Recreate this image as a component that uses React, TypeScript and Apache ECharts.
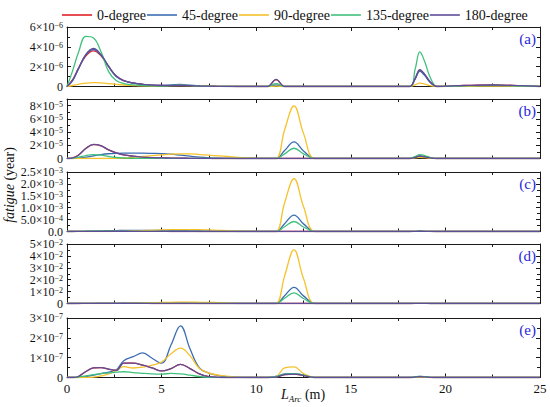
import React, { useEffect, useRef } from "react";
import * as echarts from "echarts";

// Arc-length positions (m) shared by all curves
const X = [0, 0.3, 0.6, 1, 1.4, 1.8, 2.2, 2.6, 3, 3.5, 4, 4.5, 5, 5.5, 6, 6.5, 7, 7.5, 8, 8.5, 9, 10, 10.6, 11.05, 11.5, 12, 12.5, 13.1, 14, 16, 18.1, 18.4, 18.65, 18.9, 19.2, 19.55, 20, 21, 22.5, 24, 25];

const SERIES_NAMES = ["0-degree", "45-degree", "90-degree", "135-degree", "180-degree"];

// Panel (a), values in units of 1e-6
const A_UNIT = 1e-6;
const a0 = [0, 0.7, 1.8, 3.1, 3.6, 3.1, 2.0, 1.05, 0.6, 0.36, 0.22, 0.14, 0.1, 0.09, 0.1, 0.08, 0.05, 0.03, 0.02, 0.01, 0, 0, 0, 0.7, 0, 0, 0, 0, 0, 0, 0, 0.8, 1.63, 1.2, 0.45, 0, 0.03, 0.1, 0.16, 0.08, 0];
const a45 = [0, 0.6, 1.75, 3.2, 3.73, 3.15, 2.0, 1.0, 0.58, 0.34, 0.2, 0.13, 0.12, 0.16, 0.2, 0.13, 0.06, 0.03, 0.01, 0, 0, 0, 0, 0.15, 0, 0, 0, 0, 0, 0, 0, 0.75, 1.55, 1.12, 0.4, 0, 0.01, 0.05, 0.1, 0.05, 0];
const a90 = [0, 0.1, 0.22, 0.35, 0.4, 0.37, 0.3, 0.22, 0.15, 0.1, 0.06, 0.05, 0.06, 0.08, 0.1, 0.08, 0.05, 0.03, 0.02, 0.01, 0, 0, 0, 0.04, 0, 0, 0, 0, 0, 0, 0, 0.17, 0.34, 0.25, 0.09, 0, 0, 0.02, 0.04, 0.02, 0];
const a135 = [0, 1.6, 3.4, 5.05, 4.9, 3.5, 1.5, 0.6, 0.3, 0.17, 0.1, 0.06, 0.05, 0.08, 0.12, 0.08, 0.04, 0.02, 0.01, 0, 0, 0, 0, 0.28, 0, 0, 0, 0, 0, 0, 0, 1.75, 3.49, 2.55, 0.9, 0, 0.02, 0.07, 0.11, 0.05, 0];
const a180 = [0, 0.65, 1.8, 3.25, 3.83, 3.2, 2.05, 1.05, 0.6, 0.36, 0.22, 0.14, 0.1, 0.09, 0.1, 0.08, 0.05, 0.03, 0.02, 0.01, 0, 0, 0, 0.72, 0, 0, 0, 0, 0, 0, 0, 0.82, 1.7, 1.25, 0.47, 0, 0.03, 0.1, 0.15, 0.08, 0];

// Panel (b), values in units of 1e-5
const B_UNIT = 1e-5;
const b0 = [0, 0.1, 0.5, 1.5, 2.1, 1.9, 1.3, 0.85, 0.55, 0.35, 0.22, 0.14, 0.09, 0.06, 0.04, 0.03, 0.02, 0.01, 0, 0, 0, 0, 0, 0, 0, 0, 0, 0, 0, 0, 0, 0.15, 0.35, 0.25, 0.1, 0, 0, 0, 0, 0, 0];
const b45 = [0, 0, 0.05, 0.2, 0.4, 0.6, 0.72, 0.78, 0.8, 0.8, 0.8, 0.78, 0.75, 0.65, 0.5, 0.35, 0.2, 0.1, 0.05, 0.02, 0, 0, 0, 0, 1.2, 2.5, 1.15, 0, 0, 0, 0, 0.2, 0.4, 0.3, 0.1, 0, 0, 0, 0, 0, 0];
const b90 = [0, 0, 0, 0, 0, 0, 0, 0.02, 0.05, 0.15, 0.3, 0.45, 0.55, 0.65, 0.7, 0.7, 0.6, 0.5, 0.4, 0.3, 0.18, 0.03, 0, 0, 4.3, 7.95, 3.8, 0, 0, 0, 0, 0.08, 0.18, 0.12, 0.04, 0, 0, 0, 0, 0, 0];
const b135 = [0, 0.05, 0.2, 0.45, 0.6, 0.5, 0.3, 0.15, 0.08, 0.04, 0.02, 0.01, 0.01, 0.01, 0.01, 0.01, 0, 0, 0, 0, 0, 0, 0, 0, 0.7, 1.55, 0.7, 0, 0, 0, 0, 0.3, 0.6, 0.45, 0.15, 0, 0, 0, 0, 0, 0];
const b180 = [0, 0.1, 0.5, 1.55, 2.15, 1.95, 1.3, 0.85, 0.55, 0.35, 0.22, 0.14, 0.09, 0.06, 0.04, 0.03, 0.02, 0.01, 0, 0, 0, 0, 0, 0, 0, 0, 0, 0, 0, 0, 0, 0.15, 0.36, 0.25, 0.1, 0, 0, 0, 0, 0, 0];

// Panel (c), values in units of 1e-3
const C_UNIT = 1e-3;
const c0 = [0, 0, 0.002, 0.005, 0.008, 0.008, 0.007, 0.006, 0.005, 0.004, 0.003, 0.002, 0.002, 0.001, 0.001, 0, 0, 0, 0, 0, 0, 0, 0, 0, 0, 0, 0, 0, 0, 0, 0, 0.005, 0.01, 0.007, 0.002, 0, 0, 0, 0, 0, 0];
const c45 = [0, 0, 0.003, 0.01, 0.02, 0.03, 0.035, 0.04, 0.045, 0.05, 0.05, 0.05, 0.048, 0.045, 0.04, 0.03, 0.02, 0.012, 0.006, 0.003, 0.001, 0, 0, 0, 0.33, 0.69, 0.32, 0, 0, 0, 0, 0.006, 0.012, 0.008, 0.003, 0, 0, 0, 0, 0, 0];
const c90 = [0, 0, 0, 0, 0, 0, 0, 0.003, 0.008, 0.02, 0.035, 0.05, 0.065, 0.075, 0.08, 0.08, 0.075, 0.065, 0.05, 0.035, 0.02, 0.004, 0, 0, 1.2, 2.22, 1.05, 0, 0, 0, 0, 0.003, 0.006, 0.004, 0.001, 0, 0, 0, 0, 0, 0];
const c135 = [0, 0.001, 0.004, 0.01, 0.015, 0.013, 0.01, 0.007, 0.005, 0.004, 0.003, 0.003, 0.003, 0.003, 0.003, 0.002, 0.001, 0, 0, 0, 0, 0, 0, 0, 0.2, 0.42, 0.19, 0, 0, 0, 0, 0.008, 0.016, 0.011, 0.004, 0, 0, 0, 0, 0, 0];
const c180 = [0, 0, 0.002, 0.005, 0.008, 0.008, 0.007, 0.006, 0.005, 0.004, 0.003, 0.002, 0.002, 0.001, 0.001, 0, 0, 0, 0, 0, 0, 0, 0, 0, 0, 0, 0, 0, 0, 0, 0, 0.005, 0.01, 0.007, 0.002, 0, 0, 0, 0, 0, 0];

// Panel (d), values in units of 1e-2
const D_UNIT = 1e-2;
const d0 = [0, 0, 0.002, 0.005, 0.008, 0.008, 0.007, 0.006, 0.005, 0.004, 0.003, 0.002, 0.002, 0.001, 0.001, 0, 0, 0, 0, 0, 0, 0, 0, 0, 0, 0, 0, 0, 0, 0, 0, 0.003, 0.006, 0.004, 0.001, 0, 0, 0, 0, 0, 0];
const d45 = [0, 0, 0.002, 0.008, 0.015, 0.025, 0.03, 0.035, 0.04, 0.045, 0.05, 0.05, 0.05, 0.048, 0.045, 0.035, 0.025, 0.015, 0.008, 0.004, 0.001, 0, 0, 0, 0.66, 1.36, 0.64, 0, 0, 0, 0, 0.005, 0.01, 0.007, 0.002, 0, 0, 0, 0, 0, 0];
const d90 = [0, 0, 0, 0, 0, 0, 0, 0.005, 0.015, 0.03, 0.05, 0.07, 0.09, 0.1, 0.11, 0.11, 0.1, 0.09, 0.075, 0.05, 0.03, 0.005, 0, 0, 2.3, 4.5, 2.1, 0, 0, 0, 0, 0.003, 0.005, 0.003, 0.001, 0, 0, 0, 0, 0, 0];
const d135 = [0, 0.001, 0.004, 0.008, 0.01, 0.009, 0.008, 0.006, 0.005, 0.004, 0.004, 0.004, 0.004, 0.004, 0.004, 0.003, 0.002, 0.001, 0, 0, 0, 0, 0, 0, 0.44, 0.9, 0.42, 0, 0, 0, 0, 0.005, 0.01, 0.007, 0.002, 0, 0, 0, 0, 0, 0];
const d180 = [0, 0, 0.002, 0.005, 0.008, 0.008, 0.007, 0.006, 0.005, 0.004, 0.003, 0.002, 0.002, 0.001, 0.001, 0, 0, 0, 0, 0, 0, 0, 0, 0, 0, 0, 0, 0, 0, 0, 0, 0.003, 0.006, 0.004, 0.001, 0, 0, 0, 0, 0, 0];

// Panel (e), values in units of 1e-7
const E_UNIT = 1e-7;
const e0 = [0, 0, 0.05, 0.3, 0.48, 0.5, 0.42, 0.36, 0.72, 0.72, 0.62, 0.48, 0.33, 0.45, 0.66, 0.45, 0.18, 0.04, 0.01, 0, 0, 0, 0, 0.02, 0.15, 0.17, 0.1, 0, 0, 0, 0, 0.02, 0.04, 0.03, 0.01, 0, 0, 0, 0, 0, 0];
const e45 = [0, 0, 0, 0.05, 0.12, 0.2, 0.27, 0.38, 0.85, 1.05, 1.24, 0.97, 0.72, 1.65, 2.6, 1.45, 0.48, 0.22, 0.1, 0.04, 0.01, 0, 0, 0.05, 0.18, 0.2, 0.12, 0, 0, 0, 0, 0.03, 0.05, 0.04, 0.01, 0, 0, 0, 0, 0, 0];
const e90 = [0, 0, 0, 0, 0.02, 0.08, 0.18, 0.35, 0.55, 0.48, 0.52, 0.62, 0.78, 1.2, 1.48, 1.1, 0.45, 0.22, 0.12, 0.06, 0.02, 0, 0, 0.05, 0.48, 0.54, 0.2, 0, 0, 0, 0, 0.01, 0.02, 0.01, 0, 0, 0, 0, 0, 0, 0];
const e135 = [0, 0, 0.02, 0.08, 0.15, 0.2, 0.23, 0.27, 0.29, 0.25, 0.21, 0.18, 0.17, 0.21, 0.18, 0.12, 0.05, 0.01, 0, 0, 0, 0, 0, 0.05, 0.17, 0.2, 0.12, 0, 0, 0, 0, 0.03, 0.06, 0.04, 0.01, 0, 0, 0, 0, 0, 0];
const e180 = [0, 0, 0.05, 0.3, 0.48, 0.5, 0.42, 0.36, 0.72, 0.72, 0.62, 0.48, 0.33, 0.45, 0.66, 0.45, 0.18, 0.04, 0.01, 0, 0, 0, 0, 0.02, 0.15, 0.17, 0.1, 0, 0, 0, 0, 0.02, 0.04, 0.03, 0.01, 0, 0, 0, 0, 0, 0];

// Y tick labels per panel ("^" marks the exponent)
const A_TICKS = ["0", "2×10^−6", "4×10^−6", "6×10^−6"];
const B_TICKS = ["0", "2×10^−5", "4×10^−5", "6×10^−5", "8×10^−5"];
const C_TICKS = ["0.0", "5.0×10^−4", "1.0×10^−3", "1.5×10^−3", "2.0×10^−3", "2.5×10^−3"];
const D_TICKS = ["0", "1×10^−2", "2×10^−2", "3×10^−2", "4×10^−2", "5×10^−2"];
const E_TICKS = ["0", "1×10^−7", "2×10^−7", "3×10^−7"];

const PANEL_LABELS = ["(a)", "(b)", "(c)", "(d)", "(e)"];

const COLORS = ["#E2222A", "#3C6DB2", "#F6C22B", "#41C07C", "#5E4E98"];
const FONT = "Liberation Serif";

const GRID_TOPS = [27, 99, 172, 244, 318];
const GRID_H = 59.5;
const GRID_LEFT = 67;
const GRID_RIGHT = 10;

const PANELS = [
  { unit: A_UNIT, max: 6e-6, interval: 2e-6, ticks: A_TICKS, curves: [a0, a45, a90, a135, a180] },
  { unit: B_UNIT, max: 9e-5, interval: 2e-5, ticks: B_TICKS, curves: [b0, b45, b90, b135, b180] },
  { unit: C_UNIT, max: 2.5e-3, interval: 5e-4, ticks: C_TICKS, curves: [c0, c45, c90, c135, c180] },
  { unit: D_UNIT, max: 5e-2, interval: 1e-2, ticks: D_TICKS, curves: [d0, d45, d90, d135, d180] },
  { unit: E_UNIT, max: 3e-7, interval: 1e-7, ticks: E_TICKS, curves: [e0, e45, e90, e135, e180] },
];

function tickFormatter(ticks: string[], interval: number) {
  return (v: number) => {
    const r = v / interval;
    const i = Math.round(r);
    if (Math.abs(r - i) > 1e-6) return "";
    const s = ticks[i];
    if (!s) return "";
    const [base, exp] = s.split("^");
    return exp ? `{b|${base}}{s|${exp}}` : `{b|${base}}`;
  };
}

export default function App() {
  const ref = useRef<HTMLDivElement>(null);

  useEffect(() => {
    if (!ref.current) return;
    const chart = echarts.init(ref.current, null, { renderer: "svg" });
    const axisLine = { show: true, onZero: false, lineStyle: { color: "#1a1a1a", width: 1 } };
    const grids: any[] = [];
    const xAxes: any[] = [];
    const yAxes: any[] = [];
    const series: any[] = [];
    const graphics: any[] = [];

    PANELS.forEach((p, gi) => {
      grids.push({ left: GRID_LEFT, right: GRID_RIGHT, top: GRID_TOPS[gi], height: GRID_H });
      const isLast = gi === PANELS.length - 1;
      const xBase = {
        type: "value",
        gridIndex: gi,
        min: 0,
        max: 25,
        interval: 5,
        axisLine,
        splitLine: { show: false },
        axisTick: { show: true, inside: true, length: 4, lineStyle: { color: "#1a1a1a" } },
        minorTick: { show: true, splitNumber: 2, length: 3, lineStyle: { color: "#1a1a1a" } },
      };
      xAxes.push({
        ...xBase,
        position: "bottom",
        axisLabel: {
          show: isLast,
          fontFamily: FONT,
          fontSize: 13,
          color: "#111",
          margin: 4,
          showMinLabel: true,
          showMaxLabel: true,
        },
      });
      xAxes.push({ ...xBase, position: "top", axisLabel: { show: false } });

      const yBase = {
        type: "value",
        gridIndex: gi,
        min: 0,
        max: p.max,
        interval: p.interval,
        axisLine,
        splitLine: { show: false },
        axisTick: { show: true, inside: true, length: 4, lineStyle: { color: "#1a1a1a" } },
        minorTick: { show: true, splitNumber: 2, length: 3, lineStyle: { color: "#1a1a1a" } },
      };
      yAxes.push({
        ...yBase,
        position: "left",
        axisLabel: {
          show: true,
          margin: 4,
          showMinLabel: true,
          showMaxLabel: true,
          hideOverlap: false,
          formatter: tickFormatter(p.ticks, p.interval),
          color: "#111",
          fontFamily: FONT,
          fontSize: 12,
          lineHeight: 11,
          rich: {
            b: { fontFamily: FONT, fontSize: 12, color: "#111", verticalAlign: "middle", lineHeight: 11 },
            s: { fontFamily: FONT, fontSize: 8, color: "#111", verticalAlign: "top", lineHeight: 6 },
          },
        },
      });
      yAxes.push({ ...yBase, position: "right", axisLabel: { show: false } });

      p.curves.forEach((vals, si) => {
        series.push({
          type: "line",
          name: SERIES_NAMES[si],
          xAxisIndex: gi * 2,
          yAxisIndex: gi * 2,
          data: X.map((x, i) => [x, vals[i] * p.unit]),
          smooth: 0.4,
          symbol: "none",
          showSymbol: false,
          clip: true,
          lineStyle: { color: COLORS[si], width: 1.3 },
          itemStyle: { color: COLORS[si] },
          z: 2 + si,
        });
      });

      graphics.push({
        type: "text",
        right: 14,
        top: GRID_TOPS[gi] + 4,
        style: {
          text: PANEL_LABELS[gi],
          fill: "#1f1fe0",
          fontFamily: FONT,
          fontSize: 15,
        },
      });
    });

    graphics.push({
      type: "text",
      x: 9,
      y: 185,
      rotation: Math.PI / 2,
      style: {
        text: "{i|fatigue} {n|(year)}",
        align: "center",
        verticalAlign: "middle",
        rich: {
          i: { fontFamily: FONT, fontSize: 14, fontStyle: "italic", fill: "#111" },
          n: { fontFamily: FONT, fontSize: 14, fill: "#111" },
        },
      },
    });
    graphics.push({
      type: "text",
      x: 303,
      y: 394,
      style: {
        text: "{i|L}{sub|Arc}{n| (m)}",
        align: "center",
        verticalAlign: "middle",
        rich: {
          i: { fontFamily: FONT, fontSize: 14, fontStyle: "italic", fill: "#111", verticalAlign: "middle", lineHeight: 18 },
          sub: { fontFamily: FONT, fontSize: 9, fontStyle: "italic", fill: "#111", verticalAlign: "bottom", lineHeight: 9 },
          n: { fontFamily: FONT, fontSize: 14, fill: "#111", verticalAlign: "middle", lineHeight: 18 },
        },
      },
    });

    chart.setOption({
      animation: false,
      backgroundColor: "#fff",
      color: COLORS,
      textStyle: { fontFamily: FONT },
      legend: {
        show: true,
        left: 57,
        top: 3,
        icon: "rect",
        itemWidth: 30,
        itemHeight: 1.6,
        itemGap: 1,
        data: SERIES_NAMES,
        textStyle: { fontFamily: FONT, fontSize: 14, color: "#111" },
      },
      grid: grids,
      xAxis: xAxes,
      yAxis: yAxes,
      series,
      graphic: graphics,
    });
    return () => chart.dispose();
  }, []);

  return <div ref={ref} style={{ position: "fixed", left: 0, top: 0, width: 550, height: 407 }} />;
}
